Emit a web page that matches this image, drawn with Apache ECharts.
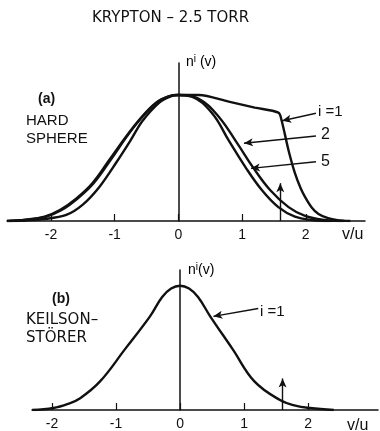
<!DOCTYPE html>
<html><head><meta charset="utf-8">
<script src="https://cdn.jsdelivr.net/npm/echarts@6/dist/echarts.min.js"></script>
<style>html,body{margin:0;padding:0;background:#fff}#c{width:380px;height:431px}</style>
</head><body><div id="c"></div>
<script>
// ---- data (v/u, normalized n^i(v)) ----
const tickValues = [-2, -1, 0, 1, 2];
const tickLabels = ['-2', '-1', '0', '1', '2'];
const hardSphere_i1 = [[-2.69,0],[-2.4,0.004],[-2.1,0.015],[-1.76,0.048],[-1.5,0.13],[-1.24,0.27],[-0.98,0.46],[-0.75,0.64],[-0.57,0.79],[-0.3,0.94],[-0.12,0.99],[0,1.0],[0.32,1.0],[0.79,0.947],[1.2,0.9],[1.57,0.86],[1.62,0.80],[1.73,0.56],[1.83,0.38],[1.92,0.26],[1.99,0.19],[2.09,0.11],[2.2,0.055],[2.35,0.022],[2.5,0.007],[2.7,0]];
const hardSphere_i2 = [[-2.69,0],[-2.4,0.01],[-2.1,0.035],[-1.86,0.087],[-1.6,0.18],[-1.35,0.30],[-1.09,0.48],[-0.82,0.67],[-0.62,0.80],[-0.35,0.94],[-0.15,0.99],[0,1.0],[0.32,0.97],[0.63,0.83],[0.92,0.62],[1.18,0.42],[1.44,0.246],[1.73,0.11],[1.99,0.04],[2.3,0.008],[2.6,0]];
const hardSphere_i5 = [[-2.65,0],[-2.4,0.008],[-2.1,0.03],[-1.84,0.085],[-1.58,0.18],[-1.33,0.30],[-1.07,0.48],[-0.81,0.67],[-0.61,0.80],[-0.34,0.94],[-0.15,0.99],[0,1.0],[0.21,0.987],[0.53,0.855],[0.79,0.64],[1.05,0.43],[1.31,0.246],[1.57,0.11],[1.83,0.034],[2.1,0.008],[2.4,0]];
const keilson_i1 = [[-2.31,0],[-1.98,0.016],[-1.75,0.05],[-1.56,0.095],[-1.25,0.23],[-0.86,0.49],[-0.47,0.754],[-0.28,0.91],[-0.14,0.978],[0,1],[0.14,0.978],[0.28,0.91],[0.47,0.754],[0.82,0.49],[1.16,0.23],[1.56,0.08],[1.8,0.035],[2.03,0.016],[2.4,0]];
// annotation arrows [from, to] in data units
const arrowsTop = [[[2.16,0.855],[1.63,0.796]], [[2.16,0.675],[1.03,0.617]], [[2.16,0.47],[1.14,0.418]], [[1.6,0],[1.6,0.30]]];
const arrowsBottom = [[[1.22,0.817],[0.52,0.754]], [[1.6,0],[1.6,0.254]]];

const INK = '#111';
const FONT = '"Liberation Sans", Arial, sans-serif';
const WIDE = '"DejaVu Sans", sans-serif';
const chart = echarts.init(document.getElementById('c'), null, {renderer: 'canvas'});

function xAxisCfg(gi, min, max) {
  return {
    gridIndex: gi, type: 'value', min: min, max: max,
    axisLine: {show: true, onZero: false, lineStyle: {color: INK, width: 1.5}},
    axisTick: {show: true, inside: true, length: 7, customValues: tickValues, lineStyle: {color: INK, width: 1.2}},
    axisLabel: {show: true, customValues: tickValues, margin: 7, color: INK, fontSize: 14, fontFamily: FONT,
      formatter: v => tickLabels[tickValues.indexOf(v)] ?? ''},
    splitLine: {show: false}
  };
}
function yAxisCfg(gi, max) {
  return {
    gridIndex: gi, type: 'value', min: 0, max: max,
    axisLine: {show: true, onZero: true, lineStyle: {color: INK, width: 1.5}},
    axisTick: {show: false}, axisLabel: {show: false}, splitLine: {show: false}
  };
}
function curve(name, data, gi, sm) {
  return {name: name, type: 'line', xAxisIndex: gi, yAxisIndex: gi, data: data, showSymbol: false,
    smooth: sm, lineStyle: {color: INK, width: 2.4}, silent: true, z: 3};
}
function arrows(list, gi) {
  return {type: 'line', xAxisIndex: gi, yAxisIndex: gi, data: [], silent: true,
    markLine: {silent: true, symbol: ['none', 'arrow'], symbolSize: [6, 9], animation: false,
      lineStyle: {color: INK, width: 1.4, type: 'solid'}, label: {show: false},
      data: list.map(a => [{coord: a[0]}, {coord: a[1]}])}};
}
function txt(x, y, text, opts) {
  return Object.assign({type: 'text', x: x, y: y, style: Object.assign({text: text, fill: INK, font: '14px ' + FONT, textVerticalAlign: 'middle'}, opts || {})});
}
const supRich = {n: {fontSize: 14, fontFamily: FONT, color: INK}, s: {fontSize: 10, fontFamily: FONT, color: INK, verticalAlign: 'top', padding: [0,0,6,0]}};

chart.setOption({
  animation: false,
  grid: [
    {left: 7, right: 15, top: 63, height: 158},
    {left: 32, right: 2, top: 270, height: 142}
  ],
  xAxis: [xAxisCfg(0, -2.69, 2.93), xAxisCfg(1, -2.3125, 3.09)],
  yAxis: [yAxisCfg(0, 1.254), yAxisCfg(1, 1.127)],
  series: [
    curve('i=1', hardSphere_i1, 0, 0.3),
    curve('i=2', hardSphere_i2, 0, 0.4),
    curve('i=5', hardSphere_i5, 0, 0.4),
    curve('i=1 KS', keilson_i1, 1, 0.4),
    arrows(arrowsTop, 0),
    arrows(arrowsBottom, 1)
  ],
  graphic: [
    txt(92, 18, 'KRYPTON – 2.5 TORR', {font: '15px ' + WIDE}),
    {type: 'text', x: 186, y: 62, style: {text: '{n|n}{s|i}{n| (v)}', rich: supRich, textVerticalAlign: 'middle'}},
    txt(38, 99, '(a)', {font: 'bold 14px ' + FONT}),
    txt(26, 121, 'HARD', {font: '15px ' + FONT}),
    txt(26, 139, 'SPHERE', {font: '15px ' + FONT}),
    txt(318, 112, 'i =1', {font: '15px ' + FONT}),
    txt(321, 135, '2', {font: '16px ' + FONT}),
    txt(321, 162, '5', {font: '16px ' + FONT}),
    txt(342, 235, 'v/u', {font: '16px ' + FONT}),
    {type: 'text', x: 188, y: 270, style: {text: '{n|n}{s|i}{n|(v)}', rich: supRich, textVerticalAlign: 'middle'}},
    txt(52, 299, '(b)', {font: 'bold 14px ' + FONT}),
    txt(26, 320, 'KEILSON–', {font: '15px ' + WIDE}),
    txt(26, 338, 'STÖRER', {font: '15px ' + WIDE}),
    txt(260, 312, 'i =1', {font: '15px ' + FONT}),
    txt(347, 426, 'v/u', {font: '16px ' + FONT})
  ]
});
</script></body></html>
